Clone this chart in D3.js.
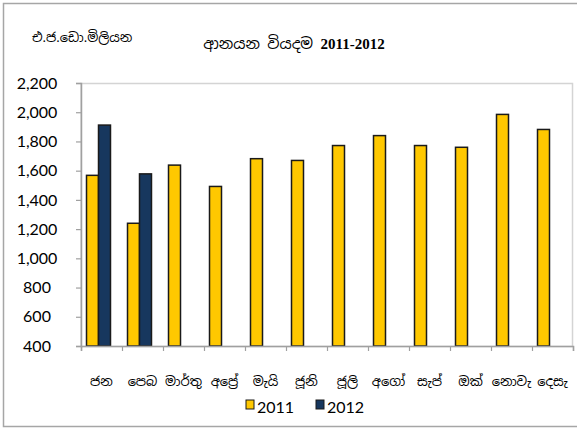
<!DOCTYPE html>
<html>
<head>
<meta charset="utf-8">
<script src="https://cdn.jsdelivr.net/npm/d3@7"></script>
<style>
  body { margin: 0; background: #fff; }
  svg { display: block; }
</style>
</head>
<body>
<svg width="577" height="430"></svg>
<script>
const months = ['ජන', 'පෙබ', 'මාර්තු', 'අප්‍රේ', 'මැයි', 'ජූනි', 'ජූලි', 'අගෝ', 'සැප්', 'ඔක්', 'නොවැ', 'දෙසැ'];
const seriesNames = ['2011', '2012'];
const values2011 = [1568, 1240, 1638, 1492, 1682, 1670, 1772, 1840, 1772, 1760, 1985, 1882];
const values2012 = [1912, 1578, null, null, null, null, null, null, null, null, null, null];
const yTicks = [400, 600, 800, 1000, 1200, 1400, 1600, 1800, 2000, 2200];
const colors = ['#FFC800', '#17375E'];

const svg = d3.select('svg');

const plotLeft = 81, plotRight = 573, plotTop = 83, plotBottom = 346;

const x = d3.scaleBand().domain(months).range([plotLeft, plotRight]);
const xGroup = d3.scaleBand().domain(months).range([plotLeft - 3, plotRight - 3]).paddingInner(0.415).paddingOuter(0.2075);
const xSub = d3.scaleBand().domain(seriesNames).range([0, xGroup.bandwidth()]);
const y = d3.scaleLinear().domain([400, 2200]).range([plotBottom, plotTop]);

// outer chart border
svg.append('rect')
  .attr('x', 3.5).attr('y', 3.5)
  .attr('width', 590).attr('height', 423)
  .attr('fill', 'none')
  .attr('stroke', '#a6a6a6')
  .attr('stroke-width', 1.5);

// plot area border
svg.append('rect')
  .attr('x', plotLeft).attr('y', plotTop + 0.5)
  .attr('width', plotRight - plotLeft - 0.5).attr('height', plotBottom - plotTop)
  .attr('fill', 'none')
  .attr('stroke', '#d4d4d4')
  .attr('stroke-width', 1.5);

const data = months.map((m, i) => ({ month: m, vals: [values2011[i], values2012[i]] }));

svg.append('g')
  .selectAll('g')
  .data(data)
  .enter()
  .append('g')
  .attr('transform', d => `translate(${xGroup(d.month)},0)`)
  .selectAll('rect')
  .data(d => d.vals.map((v, j) => ({ name: seriesNames[j], v, j })).filter(e => e.v != null))
  .enter()
  .append('rect')
  .attr('x', e => xSub(e.name))
  .attr('width', xSub.bandwidth())
  .attr('y', e => y(e.v))
  .attr('height', e => y(400) - y(e.v))
  .attr('fill', e => colors[e.j])
  .attr('stroke', '#1a1a1a')
  .attr('stroke-width', 1.5);

// y axis
const yAxis = d3.axisLeft(y)
  .tickValues(yTicks)
  .tickSize(5)
  .tickFormat(d3.format(','));

const gy = svg.append('g')
  .attr('transform', `translate(${plotLeft},0)`)
  .call(yAxis);
gy.select('.domain').attr('stroke', '#a0a0a0').attr('stroke-width', 1.5);
gy.selectAll('.tick line').attr('stroke', '#a0a0a0').attr('stroke-width', 1.2);
gy.selectAll('.tick text')
  .attr('x', -44)
  .attr('text-anchor', 'middle')
  .attr('fill', '#000')
  .style('font-family', 'Lato, sans-serif')
  .style('font-size', '16px');

// x axis
const xTickScale = d3.scaleLinear().domain([0, months.length]).range([plotLeft, plotRight]);
const gx = svg.append('g')
  .attr('transform', `translate(0,${plotBottom})`)
  .call(d3.axisBottom(xTickScale).tickValues(d3.range(0, months.length + 1)).tickSize(5).tickFormat(''));
gx.select('.domain').attr('stroke', '#a0a0a0').attr('stroke-width', 1.5);
gx.selectAll('.tick line').attr('stroke', '#a0a0a0').attr('stroke-width', 1.2);

// month labels
svg.append('g')
  .selectAll('text')
  .data(months)
  .enter()
  .append('text')
  .attr('x', d => x(d) + x.bandwidth() / 2)
  .attr('y', 386)
  .attr('text-anchor', 'middle')
  .style('font-family', '"Noto Sans Sinhala", "Iskoola Pota", sans-serif')
  .style('font-size', '13px')
  .text(d => d);

// title
svg.append('text')
  .attr('x', 294)
  .attr('y', 49)
  .attr('text-anchor', 'middle')
  .style('font-family', '"Noto Sans Sinhala", "Liberation Serif", serif')
  .style('font-size', '15px')
  .text('ආනයන වියදම ')
  .append('tspan')
  .style('font-family', '"Liberation Serif", serif')
  .style('font-weight', 'bold')
  .style('font-size', '15px')
  .text('2011-2012');

// unit label
svg.append('text')
  .attr('x', 32)
  .attr('y', 42)
  .style('font-family', '"Noto Sans Sinhala", sans-serif')
  .style('font-size', '13px')
  .text('එ.ජ.ඩො.මිලියන');

// legend
const legend = svg.append('g').attr('id', 'legend');
const legendItems = legend.selectAll('g')
  .data(seriesNames)
  .enter()
  .append('g')
  .attr('transform', (d, i) => `translate(${246 + i * 70},400)`);
legendItems.append('rect')
  .attr('width', 8).attr('height', 9)
  .attr('fill', (d, i) => colors[i])
  .attr('stroke', '#1a1a1a')
  .attr('stroke-width', 1);
legendItems.append('text')
  .attr('x', 11)
  .attr('y', 13)
  .style('font-family', 'Lato, sans-serif')
  .style('font-size', '16px')
  .text(d => d);
</script>
</body>
</html>
